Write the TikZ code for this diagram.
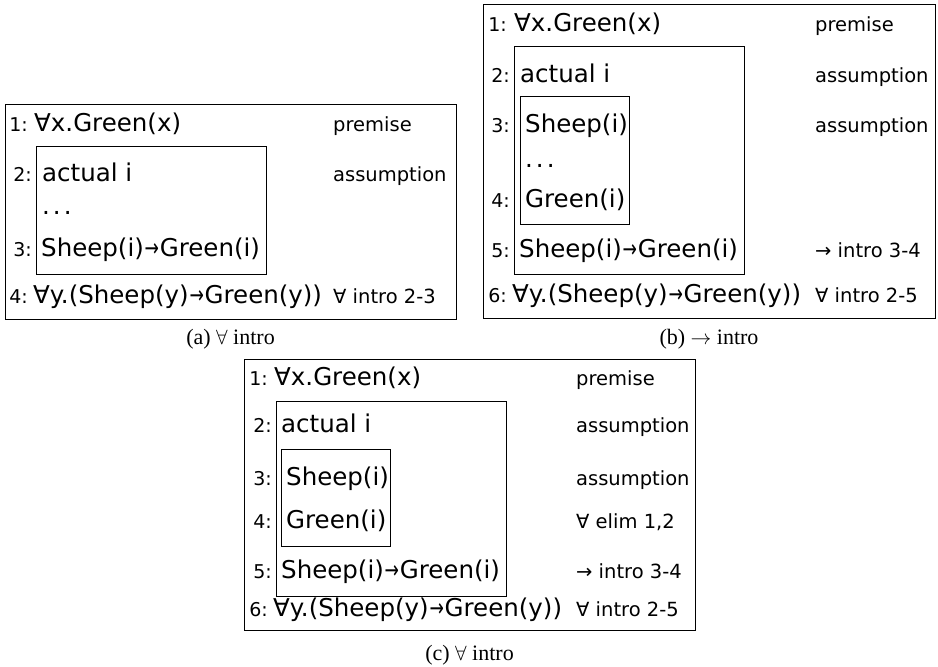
\documentclass[tikz,border=0pt]{standalone}
\usepackage{fontspec}
\setmainfont{DejaVu Sans}
\newfontfamily\capfont{Liberation Serif}
\newcommand{\sarr}{\kern0.8pt\scalebox{0.7}[1]{→}\kern0.8pt}
\begin{document}
\begin{tikzpicture}[x=1pt,y=-1pt,
  box/.style={draw, line width=0.9pt},
  fml/.style={anchor=base west, inner sep=0pt, font=\fontsize{24.5}{28}\selectfont},
  num/.style={anchor=base east, inner sep=0pt, font=\fontsize{19}{22}\selectfont},
  lbl/.style={anchor=base west, inner sep=0pt, font=\fontsize{19.5}{22}\selectfont},
  captext/.style={anchor=base, inner sep=0pt, font=\capfont\fontsize{22}{26}\selectfont}]
\fill[white] (0,0) rectangle (938,667);
\useasboundingbox (0,0) rectangle (938,667);
% ---------------- panel (a) ----------------
\draw[box] (5,104) rectangle (456,319);
\draw[box] (36,146) rectangle (266,274);
\node[num] (a1n) at (28,131) {1:};
\node[fml] (a1f) at (34,131) {∀x.Green(x)};
\node[lbl] (a1l) at (333,131) {premise};
\node[num] (a2n) at (32,181) {2:};
\node[fml] (a2f) at (42,181) {actual i};
\node[lbl] (a2l) at (333,181) {assumption};
\node[fml] (adots) at (42,214) {.\kern3pt.\kern3pt.};
\node[num] (a3n) at (32,256) {3:};
\node[fml] (a3f) at (41,256) {Sheep(i)\sarr Green(i)};
\node[num] (a4n) at (28,303) {4:};
\node[fml] (a4f) at (33,303) {∀y.(Sheep(y)\sarr Green(y))};
\node[lbl] (a4l) at (333,303) {∀ intro 2-3};
\node[captext] (acap) at (230.5,344) {(a) $\forall$ intro};
% ---------------- panel (b) ----------------
\draw[box] (483,4) rectangle (935,318);
\draw[box] (514,46) rectangle (744,274);
\draw[box] (520,96) rectangle (629,224);
\node[num] (b1n) at (507,31) {1:};
\node[fml] (b1f) at (514,31) {∀x.Green(x)};
\node[lbl] (b1l) at (815,31) {premise};
\node[num] (b2n) at (510,82) {2:};
\node[fml] (b2f) at (520,82) {actual i};
\node[lbl] (b2l) at (815,82) {assumption};
\node[num] (b3n) at (510,132) {3:};
\node[fml] (b3f) at (525,132) {Sheep(i)};
\node[lbl] (b3l) at (815,132) {assumption};
\node[fml] (bdots) at (525,167) {.\kern3pt.\kern3pt.};
\node[num] (b4n) at (510,207) {4:};
\node[fml] (b4f) at (525,207) {Green(i)};
\node[num] (b5n) at (510,257) {5:};
\node[fml] (b5f) at (519,257) {Sheep(i)\sarr Green(i)};
\node[lbl] (b5l) at (815,257) {→ intro 3-4};
\node[num] (b6n) at (507,302) {6:};
\node[fml] (b6f) at (512,302) {∀y.(Sheep(y)\sarr Green(y))};
\node[lbl] (b6l) at (815,302) {∀ intro 2-5};
\node[captext] (bcap) at (709,344) {(b) $\rightarrow$ intro};
% ---------------- panel (c) ----------------
\draw[box] (244,359) rectangle (695,630);
\draw[box] (276,401) rectangle (506,596);
\draw[box] (281,449) rectangle (390,546);
\node[num] (c1n) at (268,385) {1:};
\node[fml] (c1f) at (274,385) {∀x.Green(x)};
\node[lbl] (c1l) at (576,385) {premise};
\node[num] (c2n) at (272,432) {2:};
\node[fml] (c2f) at (281,432) {actual i};
\node[lbl] (c2l) at (576,432) {assumption};
\node[num] (c3n) at (272,485) {3:};
\node[fml] (c3f) at (286,485) {Sheep(i)};
\node[lbl] (c3l) at (576,485) {assumption};
\node[num] (c4n) at (272,528) {4:};
\node[fml] (c4f) at (286,528) {Green(i)};
\node[lbl] (c4l) at (576,528) {∀ elim 1,2};
\node[num] (c5n) at (272,578) {5:};
\node[fml] (c5f) at (281,578) {Sheep(i)\sarr Green(i)};
\node[lbl] (c5l) at (576,578) {→ intro 3-4};
\node[num] (c6n) at (268,616) {6:};
\node[fml] (c6f) at (273,616) {∀y.(Sheep(y)\sarr Green(y))};
\node[lbl] (c6l) at (576,616) {∀ intro 2-5};
\node[captext] (ccap) at (469.5,660) {(c) $\forall$ intro};
\end{tikzpicture}
\end{document}
